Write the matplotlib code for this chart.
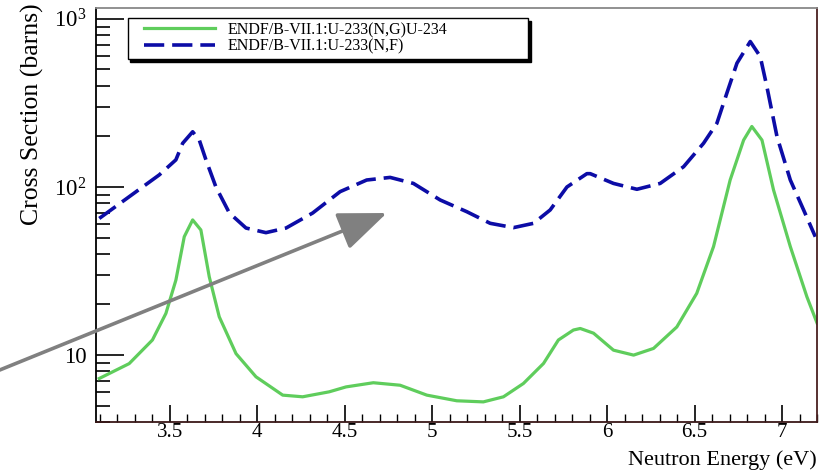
import matplotlib
matplotlib.use("Agg")
import matplotlib.pyplot as plt
import matplotlib.ticker as mticker
from matplotlib.lines import Line2D
from matplotlib.legend_handler import HandlerLine2D
import numpy as np

plt.rcParams['font.family'] = ['Liberation Serif', 'DejaVu Serif']
plt.rcParams['mathtext.fontset'] = 'custom'
plt.rcParams['mathtext.rm'] = 'Liberation Serif'

# ENDF/B-VII.1 U-233 (n,f)
e_fis = [3.096, 3.267, 3.439, 3.534, 3.573, 3.63, 3.668, 3.706, 3.763, 3.84, 3.935, 4.049,
         4.164, 4.316, 4.473, 4.625, 4.759, 4.892, 5.045, 5.197, 5.331, 5.464, 5.579, 5.674,
         5.77, 5.884, 5.903, 6.036, 6.17, 6.303, 6.437, 6.551, 6.627, 6.684, 6.742, 6.818,
         6.875, 6.913, 6.971, 7.047, 7.123, 7.19]
xs_fis = [65, 87.5, 118, 145, 182, 213, 190, 145, 100, 70, 57, 53.5,
          57, 70, 93.8, 110, 114, 105, 83.7, 71.3, 60.8, 57.3, 60.8, 73,
          100, 120, 120, 105, 96.9, 105, 132, 182, 239, 361, 545, 733,
          597, 395, 199, 110, 73, 50.6]

# ENDF/B-VII.1 U-233 (n,g) U-234
e_cap = [3.096, 3.267, 3.40, 3.477, 3.534, 3.582, 3.63, 3.677, 3.725, 3.782, 3.878, 3.992,
         4.145, 4.259, 4.411, 4.507, 4.663, 4.816, 4.969, 5.14, 5.292, 5.407, 5.521, 5.636,
         5.721, 5.807, 5.846, 5.922, 6.036, 6.151, 6.265, 6.398, 6.512, 6.608, 6.703, 6.78,
         6.827, 6.885, 6.951, 7.047, 7.142, 7.2]
xs_cap = [7.26, 8.9, 12.3, 17.7, 27.9, 50.6, 63.7, 55.5, 29.2, 16.9, 10.2, 7.43,
          5.78, 5.65, 6.05, 6.47, 6.85, 6.62, 5.78, 5.35, 5.27, 5.65, 6.78, 8.92,
          12.3, 14.1, 14.4, 13.5, 10.7, 10.0, 10.96, 14.7, 23.3, 44.2, 110, 190,
          229, 190, 96, 44.2, 22.2, 15.5]

fig = plt.figure(figsize=(8.27, 4.71), dpi=100)
ax = fig.add_axes([0.116, 0.104, 0.872, 0.879])

ax.plot(e_cap, xs_cap, color='#5fcd5c', lw=2.3, label='ENDF/B-VII.1:U-233(N,G)U-234')
ax.plot(e_fis, xs_fis, color='#0c0ca6', lw=2.6, dashes=(5.6, 2.2),
        label='ENDF/B-VII.1:U-233(N,F)')

ax.set_yscale('log')
ax.set_xlim(3.077, 7.2)
ax.set_ylim(4.0, 1160)

ax.xaxis.set_major_locator(mticker.MultipleLocator(0.5))
ax.xaxis.set_minor_locator(mticker.MultipleLocator(0.1))
ax.xaxis.set_major_formatter(mticker.FuncFormatter(lambda v, p: '%g' % v))

def yfmt(v, p):
    if abs(v - 10) < 1e-6:
        return '10'
    return r'$\mathrm{10^{%d}}$' % round(np.log10(v))
ax.yaxis.set_major_formatter(mticker.FuncFormatter(yfmt))

ax.tick_params(which='both', direction='in', top=False, right=False)
ax.tick_params(axis='y', which='major', length=20, width=1.2, pad=7, labelsize=16.5)
ax.tick_params(axis='y', which='minor', length=10, width=1.2)
ax.tick_params(axis='x', which='major', length=12, width=1.2, pad=1, labelsize=15)
ax.tick_params(axis='x', which='minor', length=6, width=1.0)

ax.spines['top'].set_color('#888888')
ax.spines['right'].set_color('#4a2020')
ax.spines['bottom'].set_color('#3a1818')
for s in ax.spines.values():
    s.set_linewidth(1.3)

ax.set_ylabel('Cross Section (barns)', fontsize=18.5, loc='top')
ax.yaxis.set_label_coords(-0.072, 1.012)
ax.set_xlabel('Neutron Energy (eV)', fontsize=16, loc='right')
ax.xaxis.label.set_va('bottom')
ax.xaxis.set_label_coords(1.0, -0.116)

leg = ax.legend(loc='upper left', bbox_to_anchor=(0.044, 0.882, 0.555, 0.094),
                mode='expand', fontsize=11.5, frameon=True, fancybox=False,
                shadow={'color': 'black', 'alpha': 1.0}, borderpad=0.25,
                borderaxespad=0, handlelength=5.2, handletextpad=0.8,
                labelspacing=0.05, handler_map={Line2D: HandlerLine2D(xpad=0.8)})
leg.get_frame().set_edgecolor('black')
leg.get_frame().set_linewidth(1.0)

# grey arrow pointing at the fission bump
ax.annotate('', xy=(4.74, 70), xytext=(2.52, 8.1), annotation_clip=False,
            arrowprops=dict(arrowstyle='-|>,head_length=1.5,head_width=0.6',
                            mutation_scale=20, lw=2.6, color='#808080',
                            shrinkA=0, shrinkB=0))

fig.savefig('out.png', dpi=100)
